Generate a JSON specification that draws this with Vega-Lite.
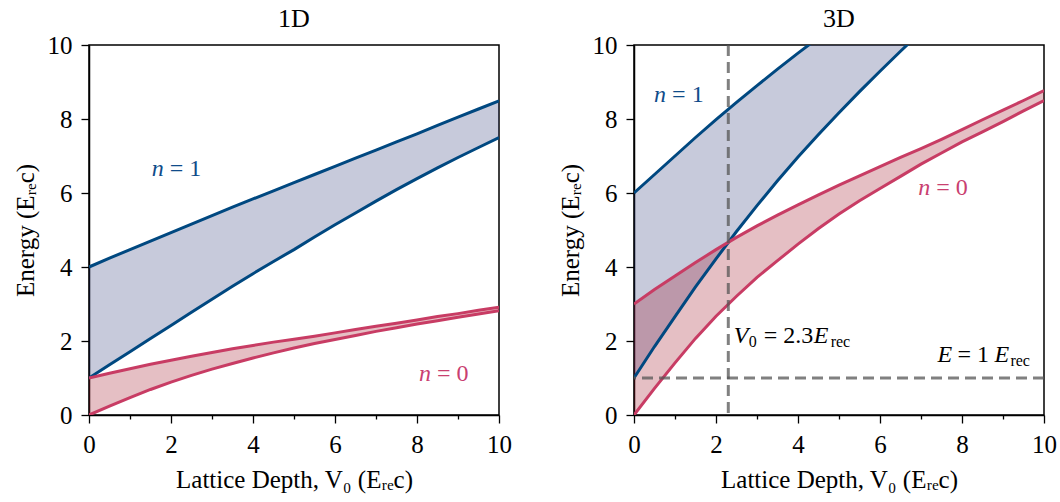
{
  "$schema": "https://vega.github.io/schema/vega-lite/v6.json",
  "background": "white",
  "padding": {"left": 12, "top": 5, "right": 5, "bottom": 5},
  "datasets": {
    "d1": [
      {"V":0,"n":"0","lo":0,"hi":1},{"V":0.5,"n":"0","lo":0.24,"hi":1.13},{"V":1,"n":"0","lo":0.47,"hi":1.25},{"V":1.5,"n":"0","lo":0.69,"hi":1.37},{"V":2,"n":"0","lo":0.89,"hi":1.48},{"V":2.5,"n":"0","lo":1.07,"hi":1.59},{"V":3,"n":"0","lo":1.24,"hi":1.69},{"V":3.5,"n":"0","lo":1.39,"hi":1.79},{"V":4,"n":"0","lo":1.54,"hi":1.88},{"V":4.5,"n":"0","lo":1.68,"hi":1.97},{"V":5,"n":"0","lo":1.81,"hi":2.05},{"V":5.5,"n":"0","lo":1.93,"hi":2.13},{"V":6,"n":"0","lo":2.04,"hi":2.22},{"V":6.5,"n":"0","lo":2.15,"hi":2.31},{"V":7,"n":"0","lo":2.26,"hi":2.4},{"V":7.5,"n":"0","lo":2.36,"hi":2.48},{"V":8,"n":"0","lo":2.46,"hi":2.57},{"V":8.5,"n":"0","lo":2.55,"hi":2.66},{"V":9,"n":"0","lo":2.64,"hi":2.74},{"V":9.5,"n":"0","lo":2.73,"hi":2.83},{"V":10,"n":"0","lo":2.82,"hi":2.91},
      {"V":0,"n":"1","lo":1,"hi":4},{"V":0.5,"n":"1","lo":1.36,"hi":4.24},{"V":1,"n":"1","lo":1.71,"hi":4.47},{"V":1.5,"n":"1","lo":2.07,"hi":4.7},{"V":2,"n":"1","lo":2.42,"hi":4.93},{"V":2.5,"n":"1","lo":2.78,"hi":5.16},{"V":3,"n":"1","lo":3.13,"hi":5.39},{"V":3.5,"n":"1","lo":3.48,"hi":5.62},{"V":4,"n":"1","lo":3.82,"hi":5.84},{"V":4.5,"n":"1","lo":4.15,"hi":6.06},{"V":5,"n":"1","lo":4.47,"hi":6.28},{"V":5.5,"n":"1","lo":4.81,"hi":6.5},{"V":6,"n":"1","lo":5.14,"hi":6.72},{"V":6.5,"n":"1","lo":5.46,"hi":6.94},{"V":7,"n":"1","lo":5.78,"hi":7.16},{"V":7.5,"n":"1","lo":6.09,"hi":7.38},{"V":8,"n":"1","lo":6.39,"hi":7.6},{"V":8.5,"n":"1","lo":6.68,"hi":7.83},{"V":9,"n":"1","lo":6.96,"hi":8.05},{"V":9.5,"n":"1","lo":7.23,"hi":8.27},{"V":10,"n":"1","lo":7.5,"hi":8.49}
    ],
    "d3": [
      {"V":0,"n":"0","lo":0,"hi":3},{"V":0.5,"n":"0","lo":0.72,"hi":3.39},{"V":1,"n":"0","lo":1.41,"hi":3.76},{"V":1.5,"n":"0","lo":2.07,"hi":4.12},{"V":2,"n":"0","lo":2.67,"hi":4.47},{"V":2.5,"n":"0","lo":3.21,"hi":4.8},{"V":3,"n":"0","lo":3.72,"hi":5.11},{"V":3.5,"n":"0","lo":4.17,"hi":5.4},{"V":4,"n":"0","lo":4.62,"hi":5.68},{"V":4.5,"n":"0","lo":5.04,"hi":5.95},{"V":5,"n":"0","lo":5.43,"hi":6.21},{"V":5.5,"n":"0","lo":5.79,"hi":6.46},{"V":6,"n":"0","lo":6.12,"hi":6.71},{"V":6.5,"n":"0","lo":6.45,"hi":6.96},{"V":7,"n":"0","lo":6.78,"hi":7.2},{"V":7.5,"n":"0","lo":7.08,"hi":7.45},{"V":8,"n":"0","lo":7.38,"hi":7.71},{"V":8.5,"n":"0","lo":7.65,"hi":7.98},{"V":9,"n":"0","lo":7.93,"hi":8.24},{"V":9.5,"n":"0","lo":8.22,"hi":8.5},{"V":10,"n":"0","lo":8.5,"hi":8.77},
      {"V":0,"n":"1","lo":1,"hi":6},{"V":0.5,"n":"1","lo":1.85,"hi":6.5},{"V":1,"n":"1","lo":2.66,"hi":7.0},{"V":1.5,"n":"1","lo":3.46,"hi":7.5},{"V":2,"n":"1","lo":4.22,"hi":7.98},{"V":2.5,"n":"1","lo":4.96,"hi":8.45},{"V":3,"n":"1","lo":5.66,"hi":8.9},{"V":3.5,"n":"1","lo":6.33,"hi":9.35},{"V":4,"n":"1","lo":6.97,"hi":9.78},{"V":4.5,"n":"1","lo":7.58,"hi":10.2},{"V":5,"n":"1","lo":8.17,"hi":10.6},{"V":5.5,"n":"1","lo":8.74,"hi":11.0},{"V":6,"n":"1","lo":9.29,"hi":11.4},{"V":6.5,"n":"1","lo":9.83,"hi":11.8},{"V":7,"n":"1","lo":10.36,"hi":12.2},{"V":7.5,"n":"1","lo":10.88,"hi":12.6}
    ]
  },
  "config": {
    "font": "Liberation Serif",
    "view": {"stroke": "black", "strokeWidth": 1.5},
    "axis": {"labelFont": "Liberation Serif", "labelFontSize": 25, "titleFont": "Liberation Serif", "titleFontSize": 25, "titleFontWeight": "normal", "labelColor": "black", "titleColor": "black", "domainColor": "black", "domainWidth": 1.5, "tickColor": "black", "tickWidth": 1.3, "grid": false, "labelOverlap": false, "labelFlush": false, "labelPadding": 9},
    "axisX": {"titlePadding": 10},
    "axisY": {"titlePadding": 9},
    "title": {"font": "Liberation Serif", "fontSize": 26, "fontWeight": "normal", "color": "black", "offset": 1},
    "text": {"font": "Liberation Serif"}
  },
  "spacing": 44,
  "hconcat": [
    {
      "title": "1D",
      "width": 410, "height": 370,
      "data": {"name": "d1"},
      "layer": [
        {"transform": [{"filter": "datum.n === '1'"}], "mark": {"type": "area", "color": "#1e2a6e", "opacity": 0.25, "clip": true},
          "encoding": {
            "x": {"field": "V", "type": "quantitative", "scale": {"domain": [0, 10], "nice": false}, "title": "Lattice Depth, V₀ (Eᵣₑc)", "axis": {"values": [0,0.5,1,1.5,2,2.5,3,3.5,4,4.5,5,5.5,6,6.5,7,7.5,8,8.5,9,9.5,10], "labelExpr": "datum.value % 2 === 0 ? format(datum.value, 'd') : ''", "tickSize": {"condition": {"test": "datum.value % 2 === 0", "value": 8}, "value": 4}}},
            "y": {"field": "hi", "type": "quantitative", "scale": {"domain": [0, 10], "nice": false}, "title": "Energy (Eᵣₑc)", "axis": {"values": [0,0.5,1,1.5,2,2.5,3,3.5,4,4.5,5,5.5,6,6.5,7,7.5,8,8.5,9,9.5,10], "labelExpr": "datum.value % 2 === 0 ? format(datum.value, 'd') : ''", "tickSize": {"condition": {"test": "datum.value % 2 === 0", "value": 8}, "value": 4}}},
            "y2": {"field": "lo"}}},
        {"transform": [{"filter": "datum.n === '0'"}], "mark": {"type": "area", "color": "#a01a2a", "opacity": 0.28, "clip": true},
          "encoding": {
            "x": {"field": "V", "type": "quantitative", "title": "Lattice Depth, V₀ (Eᵣₑc)"},
            "y": {"field": "hi", "type": "quantitative", "title": "Energy (Eᵣₑc)"}, "y2": {"field": "lo"}}},
        {"transform": [{"filter": "datum.n === '1'"}], "mark": {"type": "line", "color": "#004880", "strokeWidth": 3, "clip": true},
          "encoding": {"x": {"field": "V", "type": "quantitative", "title": "Lattice Depth, V₀ (Eᵣₑc)"}, "y": {"field": "lo", "type": "quantitative", "title": "Energy (Eᵣₑc)"}}},
        {"transform": [{"filter": "datum.n === '1'"}], "mark": {"type": "line", "color": "#004880", "strokeWidth": 3, "clip": true},
          "encoding": {"x": {"field": "V", "type": "quantitative", "title": "Lattice Depth, V₀ (Eᵣₑc)"}, "y": {"field": "hi", "type": "quantitative", "title": "Energy (Eᵣₑc)"}}},
        {"transform": [{"filter": "datum.n === '0'"}], "mark": {"type": "line", "color": "#c83c64", "strokeWidth": 3, "clip": true},
          "encoding": {"x": {"field": "V", "type": "quantitative", "title": "Lattice Depth, V₀ (Eᵣₑc)"}, "y": {"field": "lo", "type": "quantitative", "title": "Energy (Eᵣₑc)"}}},
        {"transform": [{"filter": "datum.n === '0'"}], "mark": {"type": "line", "color": "#c83c64", "strokeWidth": 3, "clip": true},
          "encoding": {"x": {"field": "V", "type": "quantitative", "title": "Lattice Depth, V₀ (Eᵣₑc)"}, "y": {"field": "hi", "type": "quantitative", "title": "Energy (Eᵣₑc)"}}},
        {"data": {"values": [{}]}, "mark": {"type": "text", "text": "n", "fontStyle": "italic", "fontSize": 24, "align": "left", "baseline": "alphabetic", "color": "#0f4c8a"},
          "encoding": {"x": {"datum": 1.53, "type": "quantitative", "title": "Lattice Depth, V₀ (Eᵣₑc)"}, "y": {"datum": 6.45, "type": "quantitative", "title": "Energy (Eᵣₑc)"}}},
        {"data": {"values": [{}]}, "mark": {"type": "text", "text": "= 1", "fontSize": 24, "align": "left", "baseline": "alphabetic", "dx": 18, "color": "#0f4c8a"},
          "encoding": {"x": {"datum": 1.53, "type": "quantitative", "title": "Lattice Depth, V₀ (Eᵣₑc)"}, "y": {"datum": 6.45, "type": "quantitative", "title": "Energy (Eᵣₑc)"}}},
        {"data": {"values": [{}]}, "mark": {"type": "text", "text": "n", "fontStyle": "italic", "fontSize": 24, "align": "left", "baseline": "alphabetic", "color": "#c94070"},
          "encoding": {"x": {"datum": 8.05, "type": "quantitative", "title": "Lattice Depth, V₀ (Eᵣₑc)"}, "y": {"datum": 0.93, "type": "quantitative", "title": "Energy (Eᵣₑc)"}}},
        {"data": {"values": [{}]}, "mark": {"type": "text", "text": "= 0", "fontSize": 24, "align": "left", "baseline": "alphabetic", "dx": 18, "color": "#c94070"},
          "encoding": {"x": {"datum": 8.05, "type": "quantitative", "title": "Lattice Depth, V₀ (Eᵣₑc)"}, "y": {"datum": 0.93, "type": "quantitative", "title": "Energy (Eᵣₑc)"}}}
      ]
    },
    {
      "title": "3D",
      "width": 410, "height": 370,
      "data": {"name": "d3"},
      "layer": [
        {"transform": [{"filter": "datum.n === '1'"}], "mark": {"type": "area", "color": "#1e2a6e", "opacity": 0.25, "clip": true},
          "encoding": {
            "x": {"field": "V", "type": "quantitative", "scale": {"domain": [0, 10], "nice": false}, "title": "Lattice Depth, V₀ (Eᵣₑc)", "axis": {"values": [0,0.5,1,1.5,2,2.5,3,3.5,4,4.5,5,5.5,6,6.5,7,7.5,8,8.5,9,9.5,10], "labelExpr": "datum.value % 2 === 0 ? format(datum.value, 'd') : ''", "tickSize": {"condition": {"test": "datum.value % 2 === 0", "value": 8}, "value": 4}}},
            "y": {"field": "hi", "type": "quantitative", "scale": {"domain": [0, 10], "nice": false}, "title": "Energy (Eᵣₑc)", "axis": {"values": [0,0.5,1,1.5,2,2.5,3,3.5,4,4.5,5,5.5,6,6.5,7,7.5,8,8.5,9,9.5,10], "labelExpr": "datum.value % 2 === 0 ? format(datum.value, 'd') : ''", "tickSize": {"condition": {"test": "datum.value % 2 === 0", "value": 8}, "value": 4}}},
            "y2": {"field": "lo"}}},
        {"transform": [{"filter": "datum.n === '0'"}], "mark": {"type": "area", "color": "#a01a2a", "opacity": 0.28, "clip": true},
          "encoding": {
            "x": {"field": "V", "type": "quantitative", "title": "Lattice Depth, V₀ (Eᵣₑc)"},
            "y": {"field": "hi", "type": "quantitative", "title": "Energy (Eᵣₑc)"}, "y2": {"field": "lo"}}},
        {"transform": [{"filter": "datum.n === '1'"}], "mark": {"type": "line", "color": "#004880", "strokeWidth": 3, "clip": true},
          "encoding": {"x": {"field": "V", "type": "quantitative", "title": "Lattice Depth, V₀ (Eᵣₑc)"}, "y": {"field": "lo", "type": "quantitative", "title": "Energy (Eᵣₑc)"}}},
        {"transform": [{"filter": "datum.n === '1'"}], "mark": {"type": "line", "color": "#004880", "strokeWidth": 3, "clip": true},
          "encoding": {"x": {"field": "V", "type": "quantitative", "title": "Lattice Depth, V₀ (Eᵣₑc)"}, "y": {"field": "hi", "type": "quantitative", "title": "Energy (Eᵣₑc)"}}},
        {"transform": [{"filter": "datum.n === '0'"}], "mark": {"type": "line", "color": "#c83c64", "strokeWidth": 3, "clip": true},
          "encoding": {"x": {"field": "V", "type": "quantitative", "title": "Lattice Depth, V₀ (Eᵣₑc)"}, "y": {"field": "lo", "type": "quantitative", "title": "Energy (Eᵣₑc)"}}},
        {"transform": [{"filter": "datum.n === '0'"}], "mark": {"type": "line", "color": "#c83c64", "strokeWidth": 3, "clip": true},
          "encoding": {"x": {"field": "V", "type": "quantitative", "title": "Lattice Depth, V₀ (Eᵣₑc)"}, "y": {"field": "hi", "type": "quantitative", "title": "Energy (Eᵣₑc)"}}},
        {"data": {"values": [{}]}, "mark": {"type": "rule", "color": "#555555", "opacity": 0.75, "strokeWidth": 3, "strokeDash": [11, 6]},
          "encoding": {"x": {"datum": 2.3, "type": "quantitative", "title": "Lattice Depth, V₀ (Eᵣₑc)"}}},
        {"data": {"values": [{}]}, "mark": {"type": "rule", "color": "#555555", "opacity": 0.75, "strokeWidth": 3, "strokeDash": [11, 6]},
          "encoding": {"y": {"datum": 1, "type": "quantitative", "title": "Energy (Eᵣₑc)"}}},
        {"data": {"values": [{}]}, "mark": {"type": "text", "text": "n", "fontStyle": "italic", "fontSize": 24, "align": "left", "baseline": "alphabetic", "color": "#0f4c8a"},
          "encoding": {"x": {"datum": 0.49, "type": "quantitative", "title": "Lattice Depth, V₀ (Eᵣₑc)"}, "y": {"datum": 8.45, "type": "quantitative", "title": "Energy (Eᵣₑc)"}}},
        {"data": {"values": [{}]}, "mark": {"type": "text", "text": "= 1", "fontSize": 24, "align": "left", "baseline": "alphabetic", "dx": 18, "color": "#0f4c8a"},
          "encoding": {"x": {"datum": 0.49, "type": "quantitative", "title": "Lattice Depth, V₀ (Eᵣₑc)"}, "y": {"datum": 8.45, "type": "quantitative", "title": "Energy (Eᵣₑc)"}}},
        {"data": {"values": [{}]}, "mark": {"type": "text", "text": "n", "fontStyle": "italic", "fontSize": 24, "align": "left", "baseline": "alphabetic", "color": "#c94070"},
          "encoding": {"x": {"datum": 6.93, "type": "quantitative", "title": "Lattice Depth, V₀ (Eᵣₑc)"}, "y": {"datum": 5.95, "type": "quantitative", "title": "Energy (Eᵣₑc)"}}},
        {"data": {"values": [{}]}, "mark": {"type": "text", "text": "= 0", "fontSize": 24, "align": "left", "baseline": "alphabetic", "dx": 18, "color": "#c94070"},
          "encoding": {"x": {"datum": 6.93, "type": "quantitative", "title": "Lattice Depth, V₀ (Eᵣₑc)"}, "y": {"datum": 5.95, "type": "quantitative", "title": "Energy (Eᵣₑc)"}}},
        {"data": {"values": [{}]}, "mark": {"type": "text", "text": "V", "fontStyle": "italic", "fontSize": 24, "align": "left", "baseline": "alphabetic", "color": "black"},
          "encoding": {"x": {"datum": 2.43, "type": "quantitative", "title": "Lattice Depth, V₀ (Eᵣₑc)"}, "y": {"datum": 1.95, "type": "quantitative", "title": "Energy (Eᵣₑc)"}}},
        {"data": {"values": [{}]}, "mark": {"type": "text", "text": "0", "fontSize": 16, "align": "left", "baseline": "alphabetic", "dx": 15, "dy": 4, "color": "black"},
          "encoding": {"x": {"datum": 2.43, "type": "quantitative", "title": "Lattice Depth, V₀ (Eᵣₑc)"}, "y": {"datum": 1.95, "type": "quantitative", "title": "Energy (Eᵣₑc)"}}},
        {"data": {"values": [{}]}, "mark": {"type": "text", "text": "= 2.3", "fontSize": 24, "align": "left", "baseline": "alphabetic", "dx": 30, "color": "black"},
          "encoding": {"x": {"datum": 2.43, "type": "quantitative", "title": "Lattice Depth, V₀ (Eᵣₑc)"}, "y": {"datum": 1.95, "type": "quantitative", "title": "Energy (Eᵣₑc)"}}},
        {"data": {"values": [{}]}, "mark": {"type": "text", "text": "E", "fontStyle": "italic", "fontSize": 24, "align": "left", "baseline": "alphabetic", "dx": 80, "color": "black"},
          "encoding": {"x": {"datum": 2.43, "type": "quantitative", "title": "Lattice Depth, V₀ (Eᵣₑc)"}, "y": {"datum": 1.95, "type": "quantitative", "title": "Energy (Eᵣₑc)"}}},
        {"data": {"values": [{}]}, "mark": {"type": "text", "text": "rec", "fontSize": 16, "align": "left", "baseline": "alphabetic", "dx": 97, "dy": 4, "color": "black"},
          "encoding": {"x": {"datum": 2.43, "type": "quantitative", "title": "Lattice Depth, V₀ (Eᵣₑc)"}, "y": {"datum": 1.95, "type": "quantitative", "title": "Energy (Eᵣₑc)"}}},
        {"data": {"values": [{}]}, "mark": {"type": "text", "text": "E", "fontStyle": "italic", "fontSize": 24, "align": "left", "baseline": "alphabetic", "color": "black"},
          "encoding": {"x": {"datum": 7.4, "type": "quantitative", "title": "Lattice Depth, V₀ (Eᵣₑc)"}, "y": {"datum": 1.44, "type": "quantitative", "title": "Energy (Eᵣₑc)"}}},
        {"data": {"values": [{}]}, "mark": {"type": "text", "text": "= 1", "fontSize": 24, "align": "left", "baseline": "alphabetic", "dx": 20, "color": "black"},
          "encoding": {"x": {"datum": 7.4, "type": "quantitative", "title": "Lattice Depth, V₀ (Eᵣₑc)"}, "y": {"datum": 1.44, "type": "quantitative", "title": "Energy (Eᵣₑc)"}}},
        {"data": {"values": [{}]}, "mark": {"type": "text", "text": "E", "fontStyle": "italic", "fontSize": 24, "align": "left", "baseline": "alphabetic", "dx": 57, "color": "black"},
          "encoding": {"x": {"datum": 7.4, "type": "quantitative", "title": "Lattice Depth, V₀ (Eᵣₑc)"}, "y": {"datum": 1.44, "type": "quantitative", "title": "Energy (Eᵣₑc)"}}},
        {"data": {"values": [{}]}, "mark": {"type": "text", "text": "rec", "fontSize": 16, "align": "left", "baseline": "alphabetic", "dx": 73, "dy": 4, "color": "black"},
          "encoding": {"x": {"datum": 7.4, "type": "quantitative", "title": "Lattice Depth, V₀ (Eᵣₑc)"}, "y": {"datum": 1.44, "type": "quantitative", "title": "Energy (Eᵣₑc)"}}}
      ]
    }
  ]
}
